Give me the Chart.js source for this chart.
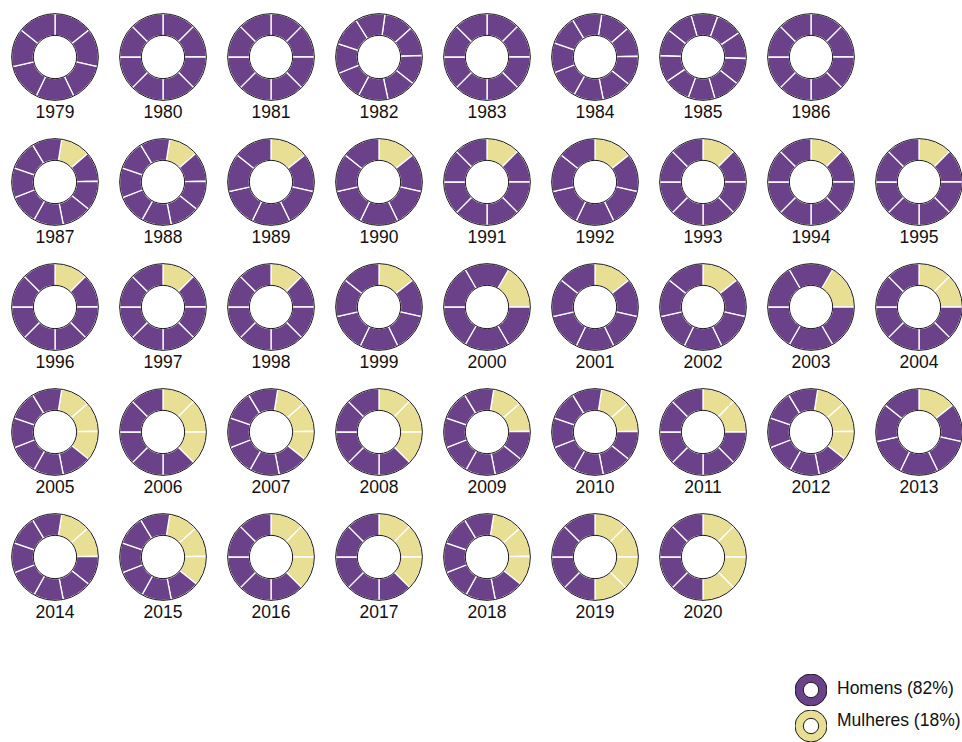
<!DOCTYPE html>
<html><head><meta charset="utf-8">
<script src="https://cdn.jsdelivr.net/npm/chart.js@4.4.1/dist/chart.umd.min.js"></script>
<style>
html,body{margin:0;padding:0;background:#fff;}
body{width:962px;height:742px;overflow:hidden;position:relative;font-family:"Liberation Sans",Arial,Helvetica,sans-serif;}
canvas.d{position:absolute;}
.lbl{position:absolute;width:100px;text-align:center;font-size:17.5px;color:#111;line-height:20px;}
.leg{position:absolute;font-size:17.5px;color:#111;line-height:20px;}
</style></head><body>
<script>
// ---- data ----
const years = [1979,1980,1981,1982,1983,1984,1985,1986,
  1987,1988,1989,1990,1991,1992,1993,1994,1995,
  1996,1997,1998,1999,2000,2001,2002,2003,2004,
  2005,2006,2007,2008,2009,2010,2011,2012,2013,
  2014,2015,2016,2017,2018,2019,2020];
const totalMembers = [7,8,8,9,8,9,10,8,
  9,9,7,7,8,7,8,8,8,
  8,8,8,7,6,7,7,6,8,
  9,8,9,8,9,9,8,9,7,
  9,9,8,8,9,8,8];
const womenMembers = [0,0,0,0,0,0,0,0,
  1,1,1,1,1,1,1,1,1,
  1,1,1,1,1,1,1,1,2,
  3,3,3,3,2,2,2,3,1,
  2,3,3,3,3,4,4];
const startAngle = [0,0,0,8,0,9,-16,0,
  9,9,0,0,0,0,0,0,0,
  0,0,0,0,30,0,0,30,0,
  9,0,9,0,9,9,0,9,0,
  9,9,0,0,9,0,0];
const legendLabels = ['Homens (82%)','Mulheres (18%)'];

// ---- style ----
const PURPLE = '#6B4189', YELLOW = '#E8DF94';
const rowStarts = [0, 8, 17, 26, 35];
const colX0 = 55, colStep = 108, rowY0 = 57, rowStep = 125;
const SIZE = 88;

const ringOutline = {
  id: 'ringOutline',
  afterDatasetsDraw(chart) {
    const arc = chart.getDatasetMeta(0).data[0];
    if (!arc) return;
    const p = arc.getProps(['x','y','innerRadius','outerRadius'], true);
    const ctx = chart.ctx;
    ctx.save();
    ctx.strokeStyle = '#1a1a1a';
    ctx.lineWidth = 1;
    ctx.beginPath(); ctx.arc(p.x, p.y, p.outerRadius, 0, Math.PI * 2); ctx.stroke();
    ctx.beginPath(); ctx.arc(p.x, p.y, p.innerRadius, 0, Math.PI * 2); ctx.stroke();
    ctx.restore();
  }
};

function makeDonut(cx, cy, size, values, colors, rotation, cutout, bw) {
  const c = document.createElement('canvas');
  c.className = 'd';
  c.width = size; c.height = size;
  c.style.width = size + 'px'; c.style.height = size + 'px';
  c.style.left = (cx - size / 2) + 'px';
  c.style.top = (cy - size / 2) + 'px';
  document.body.appendChild(c);
  new Chart(c, {
    type: 'doughnut',
    data: {
      labels: values.map((_, i) => String(i)),
      datasets: [{ data: values, backgroundColor: colors, borderColor: '#ffffff', borderWidth: bw, hoverOffset: 0 }]
    },
    options: {
      responsive: false, animation: false, events: [],
      devicePixelRatio: 1,
      cutout: cutout, rotation: rotation,
      layout: { padding: 0 },
      plugins: { legend: { display: false }, tooltip: { enabled: false } }
    },
    plugins: [ringOutline]
  });
}

years.forEach((yr, i) => {
  let r = 0;
  for (let k = 0; k < rowStarts.length; k++) if (i >= rowStarts[k]) r = k;
  const col = i - rowStarts[r];
  const cx = colX0 + col * colStep, cy = rowY0 + r * rowStep;
  const n = totalMembers[i], w = womenMembers[i];
  const vals = [], cols = [];
  for (let s = 0; s < n; s++) { vals.push(1); cols.push(s < w ? YELLOW : PURPLE); }
  makeDonut(cx, cy, SIZE, vals, cols, startAngle[i], '50%', 1.3);
  const l = document.createElement('div');
  l.className = 'lbl';
  l.textContent = String(yr);
  l.style.left = (cx - 50) + 'px';
  l.style.top = (cy + 45) + 'px';
  document.body.appendChild(l);
});

// legend
[[PURPLE, 690], [YELLOW, 726]].forEach((e, k) => {
  makeDonut(811, e[1], 32, [1], [e[0]], 0, '48%', 0);
  const t = document.createElement('div');
  t.className = 'leg';
  t.textContent = legendLabels[k];
  t.style.left = '837px';
  t.style.top = (e[1] - 12 - (k ? 4 : 0)) + 'px';
  document.body.appendChild(t);
});
</script>
</body></html>
